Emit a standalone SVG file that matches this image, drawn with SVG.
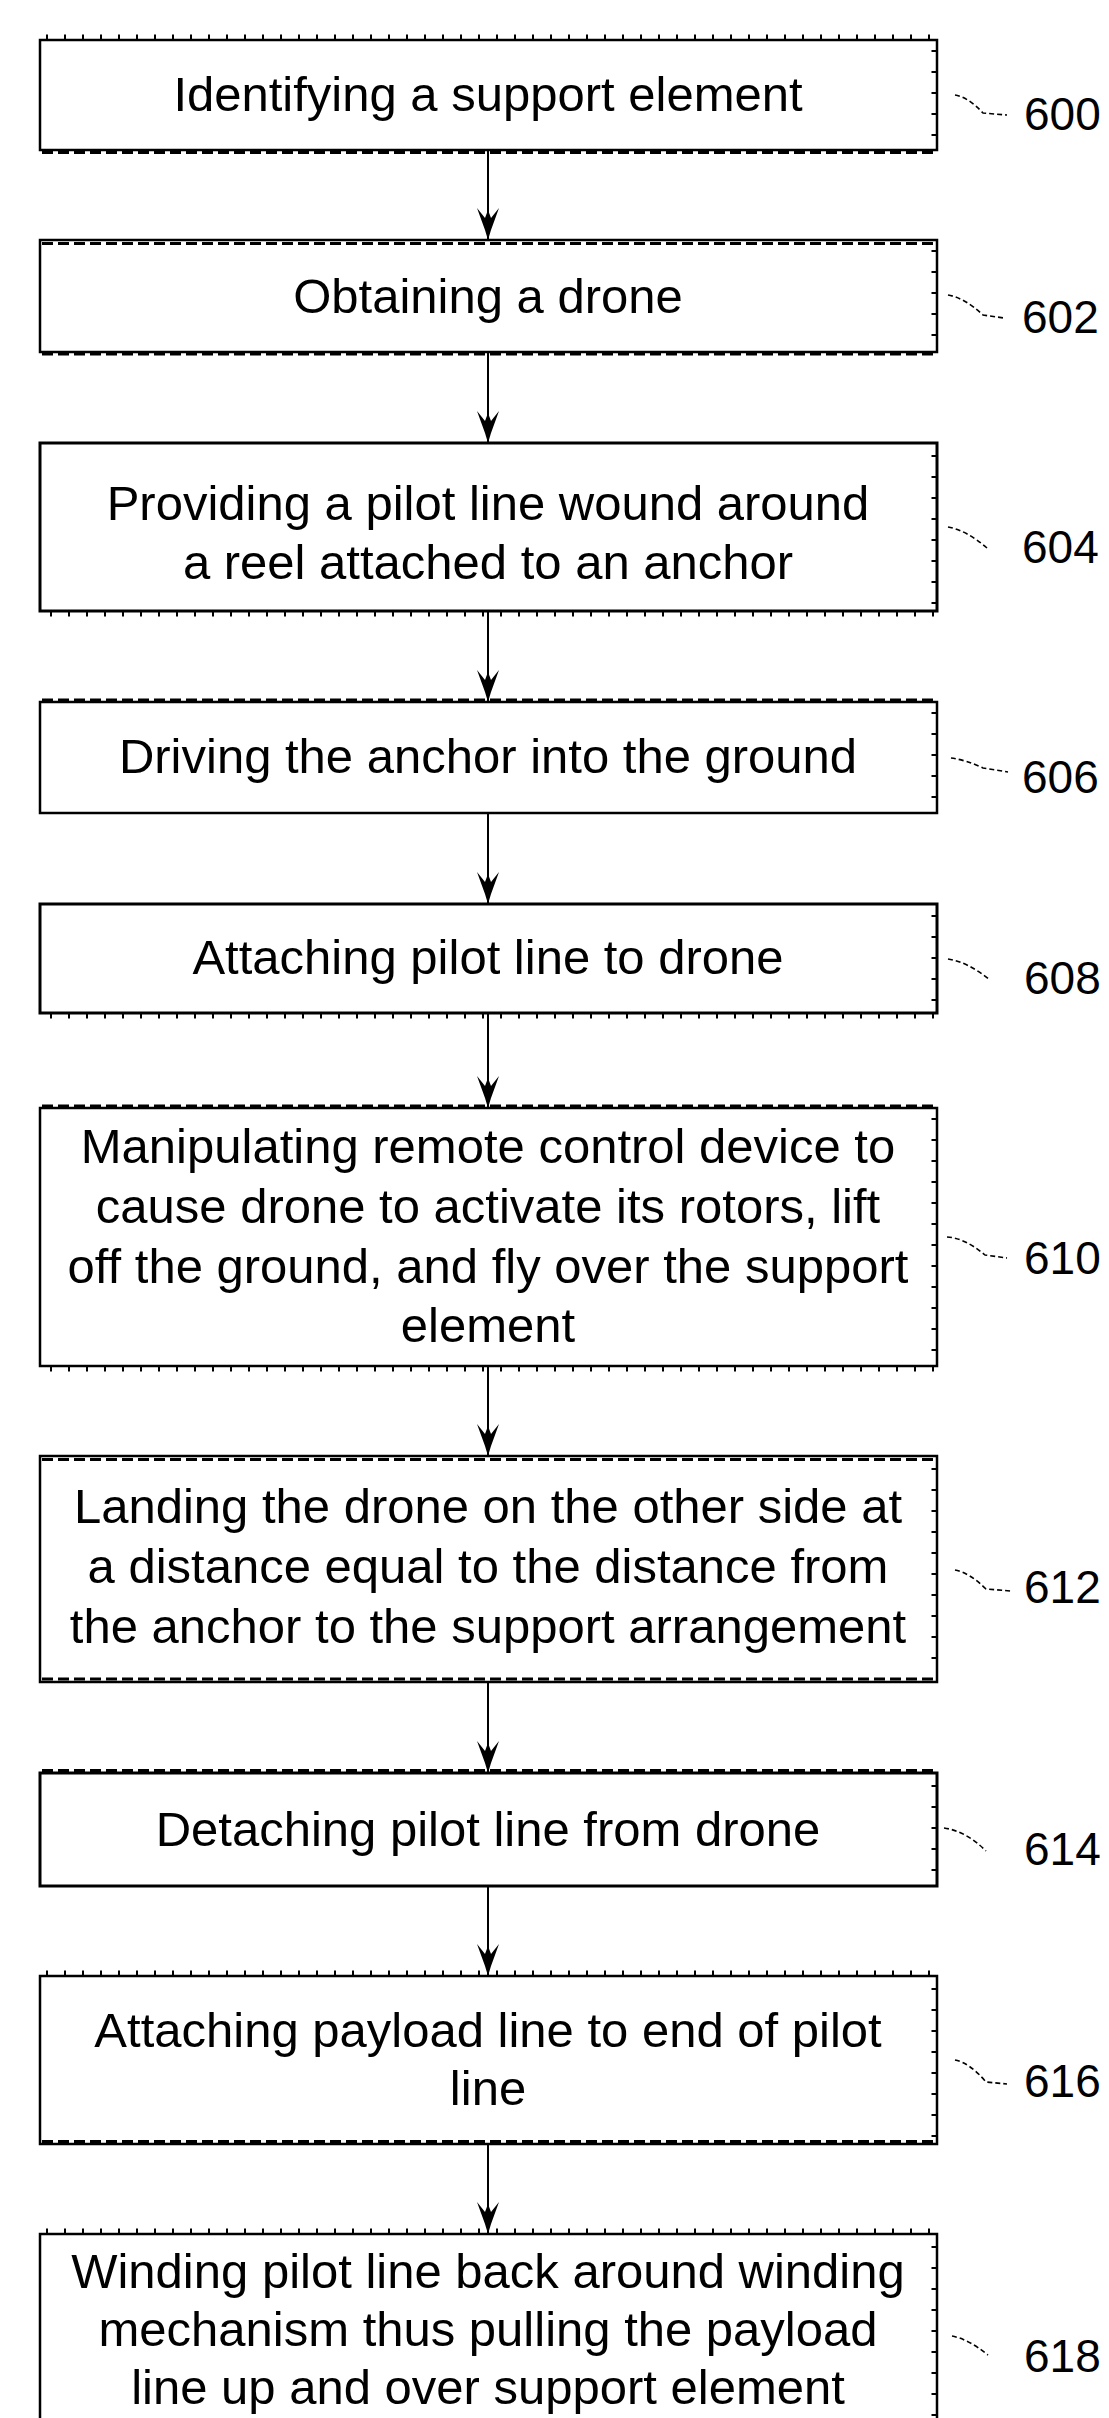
<svg xmlns="http://www.w3.org/2000/svg" width="1109" height="2418" viewBox="0 0 1109 2418">
  <defs>
    <style>
      .box { fill: #fff; stroke: #000; stroke-width: 2.5; }
      .txt { font-family: "Liberation Sans", Arial, sans-serif; font-size: 49px; fill: #000; text-anchor: middle; }
      .ref { font-family: "Liberation Sans", Arial, sans-serif; font-size: 46px; fill: #000; }
      .lead { fill: none; stroke: #000; stroke-width: 1.6; stroke-dasharray: 5 3; }
      .conn { fill: none; stroke: #000; stroke-width: 2; }
      .tick-h { fill: none; stroke: #000; stroke-width: 5; stroke-dasharray: 2 16; }
      .band-h { fill: none; stroke: #000; stroke-width: 3; stroke-dasharray: 11 5; }
      .tick-v { fill: none; stroke: #000; stroke-width: 5; stroke-dasharray: 2 19; }
    </style>
    <!-- downward barbed arrowhead, tip at (12,32) -->
    <marker id="arrow" markerUnits="userSpaceOnUse" markerWidth="24" markerHeight="32" viewBox="0 0 24 32" refX="12" refY="32" orient="0">
      <path d="M1,0 L9,10 L12,2 L15,10 L23,0 L15,22 L12,32 L9,22 Z" fill="#000"/>
    </marker>
  </defs>

  <rect width="1109" height="2418" fill="#fff"/>

  <!-- Connectors between consecutive steps -->
  <g id="connectors">
    <line class="conn" x1="488" y1="150" x2="488" y2="240" marker-end="url(#arrow)"/>
    <line class="conn" x1="488" y1="352" x2="488" y2="443" marker-end="url(#arrow)"/>
    <line class="conn" x1="488" y1="611" x2="488" y2="702" marker-end="url(#arrow)"/>
    <line class="conn" x1="488" y1="813" x2="488" y2="904" marker-end="url(#arrow)"/>
    <line class="conn" x1="488" y1="1013" x2="488" y2="1108" marker-end="url(#arrow)"/>
    <line class="conn" x1="488" y1="1366" x2="488" y2="1456" marker-end="url(#arrow)"/>
    <line class="conn" x1="488" y1="1682" x2="488" y2="1773" marker-end="url(#arrow)"/>
    <line class="conn" x1="488" y1="1886" x2="488" y2="1976" marker-end="url(#arrow)"/>
    <line class="conn" x1="488" y1="2144" x2="488" y2="2234" marker-end="url(#arrow)"/>
  </g>

  <g id="step-600">
    <rect class="box" x="40" y="40" width="897" height="110"/>
    <path class="tick-h" d="M46 37 H935"/>
    <path class="band-h" d="M42 152.5 H935"/>
    <path class="tick-v" d="M934 50 V146"/>
    <text class="txt" x="488" y="111">Identifying a support element</text>
    <path class="lead" d="M955 95 Q968 97 983 113 L1007 115"/>
    <text class="ref" x="1024" y="130">600</text>
  </g>

  <g id="step-602">
    <rect class="box" x="40" y="240" width="897" height="112"/>
    <path class="band-h" d="M42 243.5 H935"/>
    <path class="band-h" d="M42 354 H935"/>
    <path class="tick-v" d="M934 250 V348"/>
    <text class="txt" x="488" y="313">Obtaining a drone</text>
    <path class="lead" d="M948 295 Q965 298 983 315 L1004 318"/>
    <text class="ref" x="1022" y="333">602</text>
  </g>

  <g id="step-604">
    <rect class="box" x="40" y="443" width="897" height="168" style="stroke-width:3"/>
    <path class="tick-h" d="M50 614 H935"/>
    <path class="tick-v" d="M934 455 V606"/>
    <text class="txt" x="488" y="520">Providing a pilot line wound around</text>
    <text class="txt" x="488" y="579">a reel attached to an anchor</text>
    <path class="lead" d="M948 527 Q966 530 987 548"/>
    <text class="ref" x="1022" y="563">604</text>
  </g>

  <g id="step-606">
    <rect class="box" x="40" y="702" width="897" height="111"/>
    <path class="band-h" d="M42 700 H935"/>
    <path class="tick-v" d="M934 712 V808"/>
    <text class="txt" x="488" y="773">Driving the anchor into the ground</text>
    <path class="lead" d="M951 758 Q966 760 983 768 L1008 772"/>
    <text class="ref" x="1022" y="793">606</text>
  </g>

  <g id="step-608">
    <rect class="box" x="40" y="904" width="897" height="109" style="stroke-width:3"/>
    <path class="tick-h" d="M50 1016 H935"/>
    <path class="tick-v" d="M934 915 V1008"/>
    <text class="txt" x="488" y="974">Attaching pilot line to drone</text>
    <path class="lead" d="M948 959 Q968 962 990 980"/>
    <text class="ref" x="1024" y="994">608</text>
  </g>

  <g id="step-610">
    <rect class="box" x="40" y="1108" width="897" height="258"/>
    <path class="band-h" d="M42 1106 H935"/>
    <path class="tick-h" d="M50 1369 H935"/>
    <path class="tick-v" d="M934 1118 V1360"/>
    <text class="txt" x="488" y="1163">Manipulating remote control device to</text>
    <text class="txt" x="488" y="1223">cause drone to activate its rotors, lift</text>
    <text class="txt" x="488" y="1283">off the ground, and fly over the support</text>
    <text class="txt" x="488" y="1342">element</text>
    <path class="lead" d="M947 1237 Q965 1238 985 1255 L1007 1258"/>
    <text class="ref" x="1024" y="1274">610</text>
  </g>

  <g id="step-612">
    <rect class="box" x="40" y="1456" width="897" height="226"/>
    <path class="band-h" d="M42 1459.5 H935"/>
    <path class="band-h" d="M42 1679 H935"/>
    <path class="tick-v" d="M934 1468 V1676"/>
    <text class="txt" x="488" y="1523">Landing the drone on the other side at</text>
    <text class="txt" x="488" y="1583">a distance equal to the distance from</text>
    <text class="txt" x="488" y="1643">the anchor to the support arrangement</text>
    <path class="lead" d="M955 1570 Q970 1573 986 1589 L1011 1591"/>
    <text class="ref" x="1024" y="1603">612</text>
  </g>

  <g id="step-614">
    <rect class="box" x="40" y="1773" width="897" height="113" style="stroke-width:3"/>
    <path class="band-h" d="M42 1770.5 H935"/>
    <path class="tick-v" d="M934 1785 V1880"/>
    <text class="txt" x="488" y="1846">Detaching pilot line from drone</text>
    <path class="lead" d="M944 1828 Q966 1831 986 1851"/>
    <text class="ref" x="1024" y="1865">614</text>
  </g>

  <g id="step-616">
    <rect class="box" x="40" y="1976" width="897" height="168"/>
    <path class="tick-h" d="M46 1973 H935"/>
    <path class="band-h" d="M42 2141.5 H935"/>
    <path class="tick-v" d="M934 1988 V2138"/>
    <text class="txt" x="488" y="2047">Attaching payload line to end of pilot</text>
    <text class="txt" x="488" y="2105">line</text>
    <path class="lead" d="M955 2060 Q970 2063 986 2082 L1007 2084"/>
    <text class="ref" x="1024" y="2097">616</text>
  </g>

  <g id="step-618">
    <rect class="box" x="40" y="2234" width="897" height="240"/>
    <path class="tick-h" d="M46 2231 H935"/>
    <path class="tick-v" d="M934 2246 V2418"/>
    <text class="txt" x="488" y="2288">Winding pilot line back around winding</text>
    <text class="txt" x="488" y="2346">mechanism thus pulling the payload</text>
    <text class="txt" x="488" y="2404">line up and over support element</text>
    <path class="lead" d="M952 2336 Q968 2339 988 2355"/>
    <text class="ref" x="1024" y="2372">618</text>
  </g>
</svg>
